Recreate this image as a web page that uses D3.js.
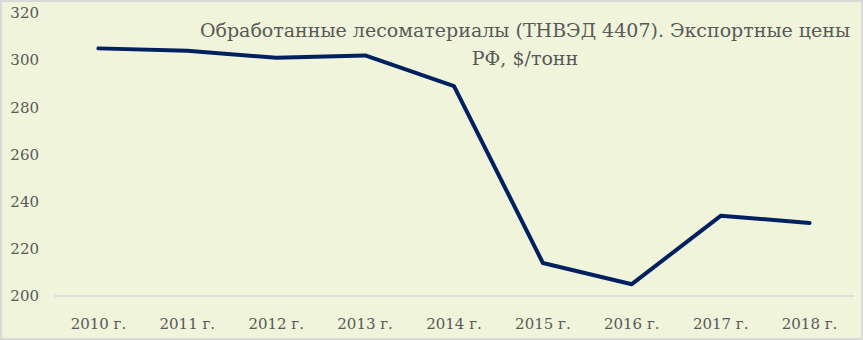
<!DOCTYPE html>
<html>
<head>
<meta charset="utf-8">
<script src="https://cdn.jsdelivr.net/npm/d3@7"></script>
<style>
  body { margin: 0; background: #fff; }
</style>
</head>
<body>
<div id="chart"></div>
<script>
var years = ['2010 г.', '2011 г.', '2012 г.', '2013 г.', '2014 г.', '2015 г.', '2016 г.', '2017 г.', '2018 г.'];
var prices = [305, 304, 301, 302, 289, 214, 205, 234, 231];
var yTicks = [200, 220, 240, 260, 280, 300, 320];
var titleLines = ['Обработанные лесоматериалы (ТНВЭД 4407). Экспортные цены', 'РФ, $/тонн'];

var W = 863, H = 340,
  margin = {top: 13, right: 9, bottom: 44, left: 54},
  font = 'DejaVu Serif';

var svg = d3.select('#chart').append('svg')
  .attr('width', W)
  .attr('height', H);

svg.append('rect')
  .attr('x', 1).attr('y', 1)
  .attr('width', W - 2).attr('height', H - 2)
  .attr('fill', '#eff4da')
  .attr('stroke', '#d9d9d9')
  .attr('stroke-width', 2);

var x = d3.scaleBand().domain(years).range([margin.left, W - margin.right]);
var y = d3.scaleLinear().domain([200, 320]).range([H - margin.bottom, margin.top]);

// baseline
svg.append('line')
  .attr('x1', margin.left).attr('x2', W - margin.right)
  .attr('y1', y(200)).attr('y2', y(200))
  .attr('stroke', '#d9d9d9')
  .attr('stroke-width', 1.5);

// y labels
svg.append('g').selectAll('text')
  .data(yTicks)
  .enter().append('text')
  .attr('x', 39)
  .attr('y', function(d) { return y(d); })
  .attr('dy', '0.35em')
  .attr('text-anchor', 'end')
  .attr('font-family', font)
  .attr('font-size', 15)
  .attr('fill', '#595959')
  .text(function(d) { return d; });

// x labels
svg.append('g').selectAll('text')
  .data(years)
  .enter().append('text')
  .attr('x', function(d) { return x(d) + x.bandwidth() / 2; })
  .attr('y', y(200) + 33)
  .attr('text-anchor', 'middle')
  .attr('font-family', font)
  .attr('font-size', 15)
  .attr('fill', '#595959')
  .text(function(d) { return d; });

var line = d3.line()
  .x(function(d, i) { return x(years[i]) + x.bandwidth() / 2; })
  .y(function(d) { return y(d); });

svg.append('path')
  .datum(prices)
  .attr('d', line)
  .attr('fill', 'none')
  .attr('stroke', '#002060')
  .attr('stroke-width', 4)
  .attr('stroke-linejoin', 'round')
  .attr('stroke-linecap', 'round');

svg.append('g').selectAll('text')
  .data(titleLines)
  .enter().append('text')
  .attr('x', 525)
  .attr('y', function(d, i) { return 37 + i * 28; })
  .attr('text-anchor', 'middle')
  .attr('font-family', font)
  .attr('font-size', 19)
  .attr('fill', '#595959')
  .text(function(d) { return d; });
</script>
</body>
</html>
